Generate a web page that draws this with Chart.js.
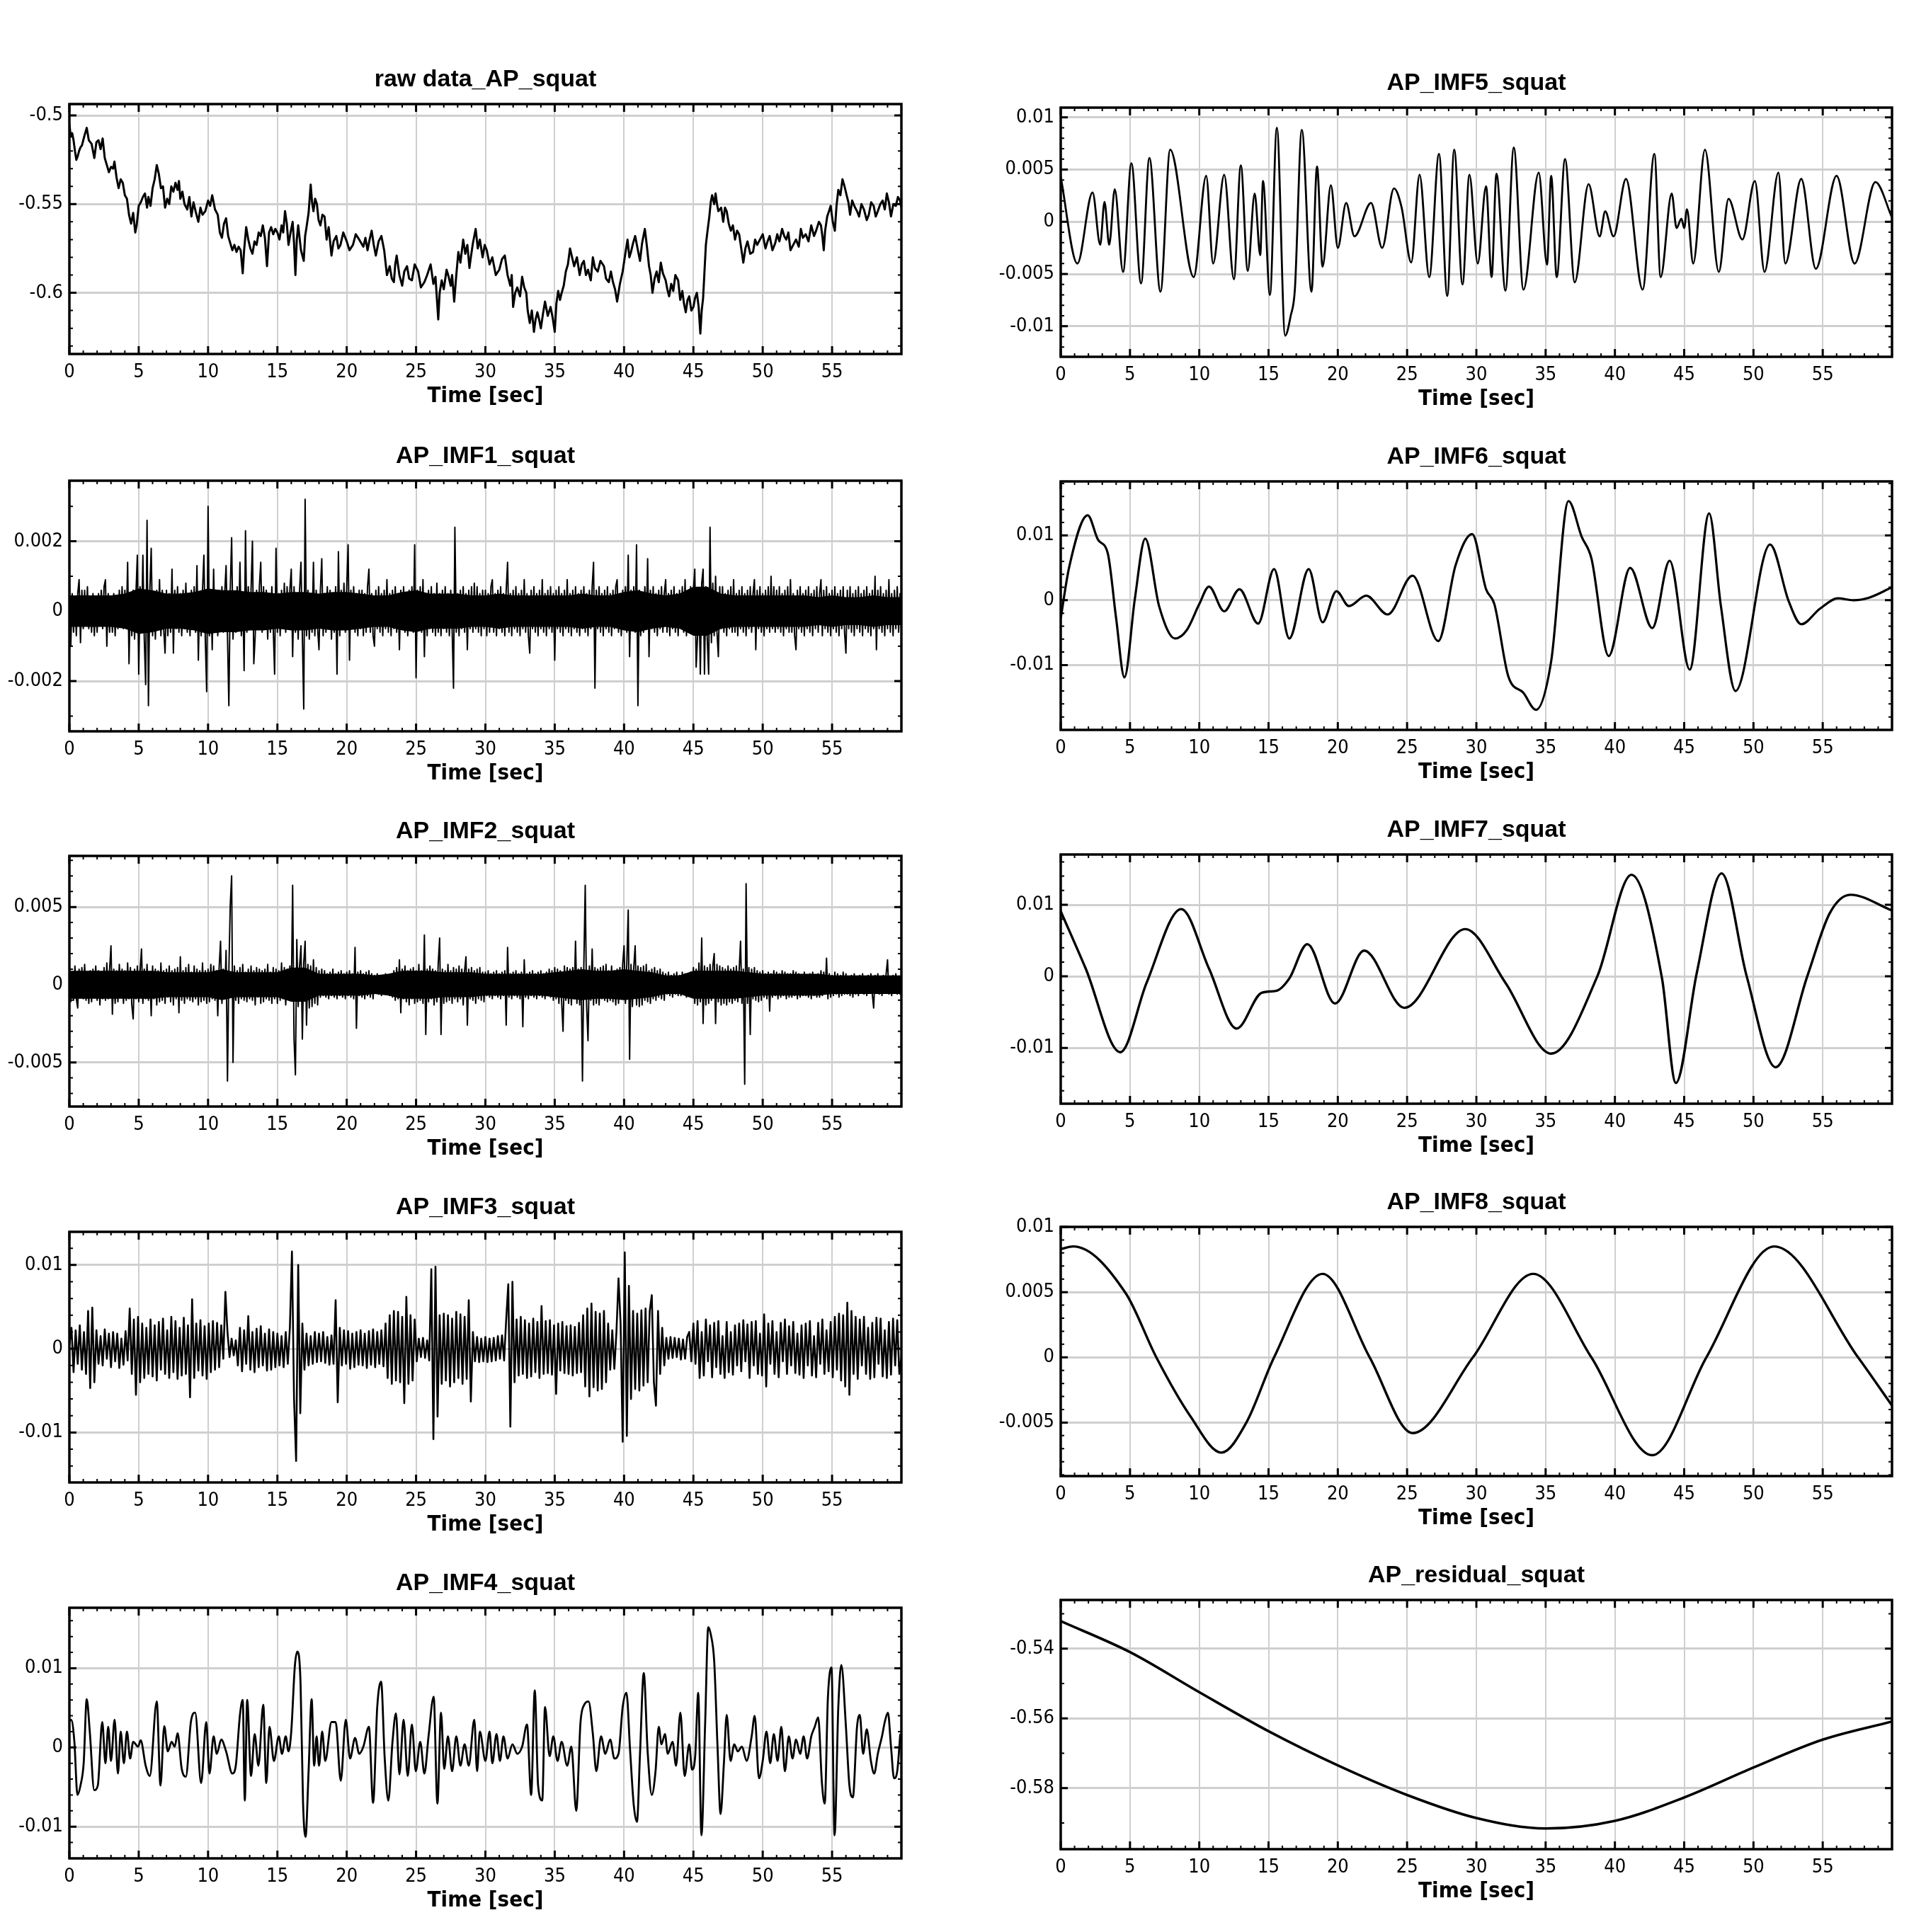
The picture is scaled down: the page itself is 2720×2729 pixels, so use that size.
<!DOCTYPE html>
<html>
<head>
<meta charset="utf-8">
<script src="https://cdn.jsdelivr.net/npm/chart.js@4.4.1/dist/chart.umd.min.js"></script>
<style>
  html, body { margin: 0; padding: 0; background: #fff; }
  body { width: 2720px; height: 2729px; position: relative; overflow: hidden; }
  canvas { position: absolute; }
</style>
</head>
<body>
<script>
// ─── Shared axis values ────────────────────────────────────────────────────
const TIME_TICKS = [0, 5, 10, 15, 20, 25, 30, 35, 40, 45, 50, 55];

// ─── raw data_AP_squat : [time s, value x1e-3] ─────────────────────────────
const rawPts = [
  [0,-505],[0.1,-512],[0.2,-510],[0.3,-514],[0.4,-520],[0.5,-525],[0.6,-523],[0.7,-520],[0.8,-518],[0.9,-517],
  [1.0,-514],[1.1,-511],[1.25,-507],[1.4,-514],[1.6,-516],[1.8,-524],[1.95,-515],[2.1,-514],[2.25,-519],[2.4,-513],
  [2.55,-524],[2.7,-528],[2.85,-532],[3.0,-529],[3.15,-530],[3.25,-526],[3.4,-535],[3.55,-541],[3.7,-536],[3.85,-538],
  [4.0,-545],[4.15,-547],[4.3,-556],[4.45,-561],[4.6,-555],[4.75,-566],[4.85,-562],[5.0,-551],[5.15,-549],[5.3,-546],
  [5.45,-544],[5.6,-552],[5.7,-546],[5.85,-551],[6.0,-541],[6.15,-536],[6.3,-528],[6.45,-533],[6.6,-541],[6.75,-540],
  [6.9,-552],[7.05,-547],[7.2,-550],[7.35,-540],[7.5,-543],[7.65,-538],[7.8,-542],[7.9,-537],[8.0,-547],[8.15,-543],
  [8.3,-550],[8.5,-553],[8.65,-546],[8.8,-557],[8.95,-549],[9.1,-554],[9.3,-560],[9.45,-552],[9.6,-556],[9.8,-554],
  [10.0,-548],[10.15,-551],[10.3,-545],[10.5,-553],[10.7,-556],[10.85,-566],[11.0,-569],[11.15,-561],[11.3,-558],[11.45,-568],
  [11.6,-572],[11.75,-576],[11.9,-573],[12.05,-577],[12.2,-574],[12.35,-576],[12.5,-589],[12.6,-576],[12.75,-563],[12.9,-570],
  [13.05,-575],[13.2,-578],[13.35,-571],[13.5,-573],[13.65,-566],[13.8,-568],[13.95,-562],[14.1,-569],[14.25,-585],[14.4,-566],
  [14.55,-563],[14.7,-567],[14.85,-564],[15.0,-566],[15.15,-570],[15.3,-562],[15.42,-566],[15.55,-554],[15.68,-561],[15.8,-573],
  [15.95,-566],[16.1,-560],[16.2,-572],[16.3,-590],[16.4,-570],[16.5,-562],[16.7,-576],[16.9,-582],[17.0,-568],[17.1,-563],
  [17.25,-555],[17.4,-539],[17.5,-549],[17.6,-554],[17.72,-547],[17.85,-550],[17.97,-559],[18.1,-562],[18.25,-556],[18.4,-557],
  [18.55,-570],[18.7,-563],[18.9,-579],[19.05,-571],[19.25,-568],[19.4,-575],[19.55,-573],[19.75,-566],[20.0,-571],[20.2,-576],
  [20.45,-573],[20.65,-567],[20.9,-570],[21.2,-574],[21.35,-569],[21.5,-576],[21.65,-570],[21.8,-565],[21.95,-573],[22.1,-579],
  [22.3,-571],[22.5,-568],[22.7,-576],[22.9,-590],[23.1,-585],[23.25,-592],[23.4,-594],[23.5,-584],[23.6,-579],[23.8,-590],
  [24.0,-596],[24.15,-588],[24.35,-585],[24.5,-592],[24.7,-593],[24.9,-584],[25.15,-588],[25.35,-597],[25.6,-594],[25.8,-590],
  [26.05,-584],[26.25,-595],[26.4,-591],[26.6,-615],[26.7,-600],[26.85,-593],[27.0,-598],[27.2,-587],[27.35,-591],[27.5,-596],
  [27.6,-590],[27.75,-605],[27.9,-590],[28.05,-577],[28.2,-583],[28.4,-570],[28.55,-578],[28.7,-573],[28.85,-586],[28.95,-580],
  [29.1,-572],[29.3,-564],[29.45,-575],[29.6,-570],[29.8,-580],[29.95,-573],[30.1,-576],[30.3,-584],[30.5,-580],[30.75,-590],
  [31.0,-587],[31.2,-581],[31.4,-579],[31.6,-590],[31.8,-596],[31.9,-590],[32.0,-608],[32.15,-600],[32.3,-597],[32.5,-602],
  [32.65,-591],[32.8,-597],[32.95,-600],[33.05,-610],[33.2,-617],[33.35,-610],[33.5,-622],[33.62,-615],[33.75,-611],[33.9,-616],
  [34.0,-620],[34.15,-612],[34.3,-605],[34.5,-613],[34.7,-608],[34.85,-614],[35.0,-622],[35.12,-606],[35.25,-599],[35.38,-604],
  [35.5,-600],[35.65,-596],[35.8,-588],[35.95,-584],[36.1,-575],[36.25,-580],[36.4,-585],[36.6,-580],[36.8,-590],[36.95,-584],
  [37.1,-582],[37.25,-590],[37.4,-587],[37.6,-593],[37.75,-580],[37.9,-586],[38.1,-588],[38.3,-582],[38.55,-585],[38.7,-592],
  [38.9,-594],[39.05,-588],[39.2,-594],[39.35,-598],[39.5,-605],[39.7,-595],[39.9,-588],[40.05,-580],[40.25,-570],[40.38,-580],
  [40.5,-577],[40.65,-572],[40.8,-568],[41.0,-576],[41.15,-582],[41.3,-572],[41.5,-564],[41.65,-574],[41.8,-585],[41.92,-590],
  [42.05,-600],[42.2,-592],[42.35,-588],[42.5,-594],[42.65,-583],[42.8,-589],[43.0,-593],[43.12,-598],[43.25,-602],[43.4,-595],
  [43.55,-599],[43.7,-590],[43.9,-593],[44.05,-604],[44.2,-599],[44.32,-606],[44.45,-611],[44.58,-604],[44.7,-602],[44.85,-610],
  [45.0,-608],[45.12,-603],[45.25,-600],[45.38,-608],[45.5,-623],[45.6,-610],[45.7,-603],[45.8,-588],[45.9,-573],[46.02,-565],
  [46.15,-557],[46.25,-549],[46.35,-545],[46.5,-550],[46.6,-544],[46.7,-550],[46.8,-554],[47.0,-552],[47.15,-560],[47.28,-552],
  [47.4,-554],[47.55,-561],[47.7,-565],[47.85,-562],[48.0,-570],[48.15,-565],[48.3,-567],[48.45,-575],[48.6,-583],[48.75,-575],
  [48.9,-571],[49.1,-578],[49.3,-577],[49.45,-570],[49.6,-573],[49.8,-570],[50.0,-567],[50.2,-575],[50.35,-571],[50.5,-568],
  [50.7,-576],[50.9,-572],[51.05,-567],[51.2,-571],[51.4,-564],[51.55,-568],[51.7,-570],[51.85,-566],[52.0,-576],[52.2,-573],
  [52.4,-570],[52.6,-574],[52.75,-564],[52.9,-569],[53.1,-567],[53.3,-571],[53.5,-562],[53.7,-568],[53.85,-565],[54.05,-560],
  [54.2,-562],[54.3,-568],[54.4,-576],[54.5,-565],[54.65,-557],[54.78,-554],[54.9,-551],[55.05,-560],[55.2,-565],[55.32,-551],
  [55.45,-542],[55.6,-545],[55.75,-536],[55.9,-540],[56.05,-545],[56.18,-549],[56.3,-556],[56.45,-548],[56.6,-551],[56.8,-554],
  [56.95,-557],[57.12,-550],[57.3,-553],[57.5,-559],[57.65,-556],[57.82,-549],[58.0,-551],[58.15,-557],[58.3,-554],[58.48,-550],
  [58.65,-548],[58.8,-553],[58.95,-544],[59.1,-549],[59.25,-557],[59.42,-550],[59.6,-551],[59.75,-546],[59.9,-548],[60,-552]
];
const rawTicks = [-0.6, -0.55, -0.5];

// ─── AP_IMF1_squat : one value every 0.1 s, x1e-4 ──────────────────────────
const IMF1_DT = 0.1;
const imf1Vals = [
  11,-10,5,-6,4,-7,5,9,-9,6, -5,6,-4,7,-5,4,-6,5,-7,4, -6,5,-4,6,-5,7,9,-10,5,-6, 4,-6,5,-7,4,-5,6,-4,7,-5,
  6,-5,14,-15,5,-7,6,-8,5,16, -18,7,-6,16,-8,-21,26,-27,6,18, -7,5,-8,6,-5,9,-7,6,-5,-12, 6,-7,5,-6,12,-12,6,-5,7,-6,
  5,-7,6,-5,8,-6,5,-7,6,-5, 7,-6,13,-14,5,-7,6,16,-8,-23, 30,-7,6,-11,12,-6,5,-7,6,-5, 7,-6,5,13,-7,-27,6,21,-8,5,
  -6,7,-5,14,-7,5,-17,23,-6,7, -5,6,20,-15,-7,6,-5,7,14,-6, 7,-5,6,-8,5,-6,7,-5,-18,18, -6,5,-7,6,-5,8,-6,7,-5,6,
  12,-13,7,-6,5,-8,6,14,-7,-28, 32,-7,6,-8,5,-6,14,-7,6,-5, -11,6,15,-7,5,-6,7,-5,6,-8, 5,-6,7,-18,17,-7,6,-5,8,-6,
  7,19,-14,6,-5,7,-6,5,-7,6, -5,6,-7,5,-6,7,12,-6,5,-7, -10,6,-5,7,-6,5,-7,6,-5,9, -6,5,-7,6,-5,7,-6,5,-11,6,
  -5,7,-6,5,-7,6,-5,7,-6,19, -19,6,-5,7,-6,9,-13,5,-7,6, -5,7,-6,5,-7,8,-6,5,-7,6, -5,7,-6,5,-7,6,-5,-22,24,-6,
  5,-7,6,-5,7,-6,5,-11,6,-5, 7,-6,8,-5,7,-6,5,-7,6,-5, 6,-7,5,-6,7,9,-6,5,-7,6, -5,7,-6,5,-7,6,14,-6,5,-7,
  6,-5,7,-6,5,-7,6,-5,9,-6, 5,-7,-12,6,-5,7,-6,5,-7,6, -5,9,-6,5,-7,6,-5,7,-6,5, -14,6,-5,7,-6,5,-7,6,-5,9,
  -6,5,-7,6,-5,7,-6,5,-7,6, -5,7,-6,5,-7,6,-5,7,14,-22, 6,-5,7,-6,5,-7,6,-5,7,-6, 5,-7,6,-5,7,9,-6,5,-7,6,
  -5,7,-6,16,-13,6,-5,7,-6,19, -27,6,-7,5,-6,7,-5,15,-13,6, -5,7,-6,5,-7,6,-5,7,-6,5, 9,-6,5,-7,6,-5,7,-6,5,-7,
  6,-5,7,-6,9,-7,5,-6,7,-5, 6,12,-16,-7,6,-18,8,12,-18,7, -8,-18,24,-9,8,-7,10,-6,-13,7, -5,7,-6,5,-7,6,-5,7,-6,9,
  -6,5,-7,6,-5,7,-6,5,-7,6, -5,7,-6,5,9,-11,6,-5,7,-6, 5,-7,6,-5,7,-6,10,-5,7,-6, 6,-5,7,-6,5,-7,6,-5,7,-6,
  9,-6,5,-7,-11,6,-5,7,-6,5, -7,6,-5,7,-6,5,-7,6,-5,7, -6,5,9,-7,6,-5,7,-6,5,-7, 6,-5,7,-6,5,-7,6,-5,7,-6,
  -12,6,-5,7,-6,5,-7,6,-5,7, -6,5,-7,6,-5,7,-6,5,-7,6, -5,10,-11,6,-5,7,-6,5,-7,6, -5,9,-6,5,-7,6,-5,7,-6,5,
  -5
];
// half-width of the solid black core of IMF1, one value per second, x1e-4
const imf1Core = [
  4.5,4.5,4.5,4.5,5,6.5,6,5,5,5.5, 6.5,6,6,5.5,5.5,5,5.5,5.5,5,5.5, 5.5,5,4.5,4.5,5.5,6,5,5,5,4.5,
  4.5,5,4.5,4.5,4.5,4.5,4.5,5,4.5,4.5, 5.5,6,5,4.5,5,7,7,5,4.5,4.5, 4.5,4.5,4.5,4.5,4,4.5,4,4,4.5,4, 4
];
const imf1Ticks = [-0.002, 0, 0.002];

// ─── AP_IMF2_squat : one value every 0.1 s, x1e-4 ──────────────────────────
const IMF2_DT = 0.1;
const imf2Vals = [
  9,-11,8,-10,12,-9,-15,10,-8,11, -9,13,-10,8,-12,9,-11,10,-8,12, -10,9,-13,8,-9,11,-10,14,-9,10, 25,-19,10,-12,9,-11,13,-8,10,-12,
  9,-10,14,-9,11,-13,-22,10,-9,12, -11,9,23,-12,10,-9,13,-10,8,-20, 12,-9,10,-13,9,-11,14,-10,9,-12, 10,-8,12,-11,9,-13,10,-9,11,-18,
  18,-10,9,-12,11,-9,13,-10,8,-11, 12,-9,10,-13,9,-11,14,-10,9,-12, 10,-11,13,-9,12,-10,9,-20,11,28, -12,10,-9,22,-62,9,51,70,-50,12,
  -10,9,-12,11,-9,13,-10,8,-11,10, -9,12,-10,9,-13,11,-8,10,-12,9, -11,10,-9,13,-10,8,-12,11,-9,10, -12,9,-10,14,-9,11,-13,10,-8,12,
  -10,64,-35,-58,29,-14,12,25,-35,14, 28,-26,13,-15,12,-14,16,-12,11,-13, 9,-8,10,-7,9,-8,7,-9,8,-7, 10,-8,7,-9,8,-7,9,-8,7,-9,
  8,-7,9,-8,7,-9,24,-28,8,-7, 9,-8,7,-9,8,-7,9,-8,7,-9, 6,-5,7,-6,5,-7,6,-5,7,-6, 5,-7,6,-8,9,-10,11,-9,16,-18,
  10,-9,12,-11,9,-13,10,-9,11,-12, 9,-11,13,-10,9,-12,32,-32,10,-11, 12,-9,10,-13,9,-11,14,30,-32,10, -12,9,-11,13,-10,9,-12,11,-9,10,
  -11,12,-9,10,-13,9,18,-26,10,-9, 11,-10,9,-12,10,-9,11,-10,8,-11, 8,-7,9,-8,7,-9,8,-7,9,-8, 7,-9,8,-7,9,-26,24,-8,7,-9,
  8,-7,9,-8,7,-9,8,-27,16,-8, 7,-9,8,-7,9,-8,7,-9,8,-7, 9,-8,7,-9,8,-7,10,-8,9,-10, 11,-9,10,-12,9,-11,-30,12,-10,11,
  -12,10,-13,11,-9,28,-12,10,-13,11, -62,13,64,-14,-36,12,-10,23,-13,11, -12,10,-13,11,-9,12,-10,13,-11,9, -10,12,-11,9,-13,10,-12,11,-9,13,
  25,-12,14,48,-48,13,-14,11,25,-13, 12,-14,11,-13,12,-10,13,-11,9,-12, 10,-9,11,-10,9,-8,10,-9,8,-10, 7,-6,8,-7,6,-8,7,-6,8,-7,
  6,-7,8,-6,7,-8,6,-7,8,-6, 11,-12,10,-13,14,-11,30,-25,12,-13, 11,-12,13,-10,12,20,-25,13,-11,12, -13,11,-12,10,-13,12,-11,10,-12,11,
  -10,12,-11,9,28,-12,10,-64,65,-12, 11,-32,10,-9,11,-10,9,-11,8,-10, 9,-8,7,-9,8,-17,7,-8,9,-7, 8,-9,7,-8,9,-7,8,-9,7,-8,
  7,-8,9,-7,8,-9,7,-8,6,-7, 8,-7,6,-8,7,-9,8,-7,6,-8, 7,-8,9,-7,8,-6,17,-9,7,-8, 6,-7,8,-6,7,-8,6,-7,8,-6,
  7,-6,5,-7,6,-8,7,-6,5,-7, 6,-5,7,-6,5,-7,6,-5,7,-6, -15,6,-5,7,-6,5,-7,6,-5,7, 16,-6,5,-7,6,-5,7,-6,5,-6,
  4
];
// half-width of the solid black core of IMF2, one value per second, x1e-4
const imf2Core = [
  9,9,9,9,9,9,9,8,8,8, 8,10,8,8,8,8,11,11,7,7, 7,7,6,7,9,9,9,8,8,8,
  7,7,7,7,7,8,9,10,9,9, 10,9,8,6,6,9,9,9,9,8, 7,7,7,7,7,6,6,6,6,6, 6
];
const imf2Ticks = [-0.005, 0, 0.005];

// ─── AP_IMF3_squat : one value every 0.15 s, x1e-4 ─────────────────────────
const IMF3_DT = 0.15;
const imf3Vals = [
  5,25,-28,22,-18,28,-25,20,-30,45,-47,49,-40,22,-18,15,-20,23,-12,18,
  -22,20,-15,18,-23,12,-19,21,-14,48,-30,35,-55,38,-40,30,-35,25,-30,35,
  -33,28,-38,32,-25,36,-30,22,-35,38,-28,33,-36,25,-32,37,-30,28,-58,59,
  -35,30,-26,34,-32,27,-36,30,-28,33,-25,31,-22,28,-12,68,20,-10,12,-8,
  10,-20,25,-27,22,-18,39,-25,20,-28,24,-22,27,-20,18,-26,23,-25,20,-22,
  18,-20,15,-22,20,-18,25,116,-60,-134,100,-77,30,-25,18,-20,15,-18,20,-16,
  18,-15,20,-17,14,-19,16,-18,58,-64,25,-20,22,-18,21,-24,18,-22,20,-19,
  22,-20,18,-23,21,-19,23,-22,20,-18,22,-21,30,-35,40,-42,45,-38,44,-40,
  38,-65,62,-42,40,-38,35,-15,12,-10,13,-11,10,-14,95,-108,98,-81,40,-42,
  42,-38,40,-45,36,-40,44,-35,41,-42,38,-36,58,-63,20,-15,14,-16,12,-15,
  14,-16,12,-15,13,-14,15,-12,16,-14,35,77,-93,80,-40,35,-32,38,-30,34,
  -35,30,-33,36,-28,32,-35,51,-30,33,-29,34,-31,28,-54,30,-26,32,-29,27,
  -30,28,-32,26,-29,31,-28,40,-45,48,-57,54,-46,44,-50,42,-48,45,-40,30,
  -25,22,-24,20,84,30,-111,115,-104,75,-60,45,-48,42,-50,46,-44,48,-40,45,
  64,-40,-68,45,-30,25,-20,13,-12,14,-11,13,-10,12,-13,11,-12,14,20,-15,
  30,-18,33,-35,20,-32,35,-15,28,-34,31,-22,33,-30,15,-35,32,-28,20,-31,
  28,-20,30,-27,34,-15,29,-35,32,-20,33,-30,18,-32,41,-45,30,-18,33,-30,
  20,-34,31,-15,35,-30,27,-20,32,-29,18,-31,28,-35,30,-20,33,-32,15,-34,
  31,-18,35,-30,22,-27,32,-34,38,-25,42,-38,40,-45,55,-55,45,-30,38,-36,
  35,-20,38,-30,25,-36,31,-34,37,-18,36,-33,22,-35,32,-31,36,-20,34,-30,
  -10
];
const imf3Ticks = [-0.01, 0, 0.01];

// ─── AP_IMF4_squat : [time s, value x1e-4] ─────────────────────────────────
const imf4Pts = [
  [0,32],[0.13,35],[0.36,7],[0.58,-60],[0.8,-48],[1.03,-20],[1.25,61],[1.47,20],[1.79,-54],[2.05,-48],
  [2.37,32],[2.6,-20],[2.8,26],[3.0,-17],[3.26,35],[3.5,-33],[3.7,20],[3.93,-20],[4.15,20],[4.38,-14],
  [4.6,7],[4.96,1],[5.14,9],[5.5,-23],[5.8,-36],[6.3,58],[6.57,-48],[6.84,27],[7.1,-5],[7.37,7],
  [7.6,1],[7.8,18],[8.1,-27],[8.4,-37],[8.76,32],[9.07,44],[9.5,-45],[9.87,32],[10.1,-33],[10.4,14],
  [10.63,-8],[10.95,10],[11.3,-5],[11.75,-33],[12.0,-23],[12.3,41],[12.5,60],[12.65,-67],[12.82,60],[13.1,-36],
  [13.36,17],[13.63,-23],[13.98,54],[14.2,-45],[14.43,26],[14.75,-17],[15.1,14],[15.33,-8],[15.6,14],[15.8,-5],
  [16.0,20],[16.26,103],[16.44,121],[16.67,81],[16.85,-70],[17.03,-113],[17.25,-30],[17.47,61],[17.65,-23],[17.83,14],
  [18.0,-23],[18.23,20],[18.45,-17],[18.9,32],[19.2,32],[19.57,-42],[19.93,35],[20.24,-14],[20.6,12],[20.9,-8],
  [21.2,1],[21.6,26],[21.9,-70],[22.2,51],[22.48,83],[22.74,-14],[23.0,-67],[23.3,7],[23.55,43],[23.8,-34],
  [24.1,35],[24.4,-36],[24.7,29],[24.98,-30],[25.3,7],[25.6,-33],[25.9,14],[26.27,64],[26.54,-71],[26.8,44],
  [27.03,-27],[27.3,14],[27.6,-30],[27.9,14],[28.2,-23],[28.5,4],[28.8,-23],[29.2,35],[29.4,-30],[29.6,20],
  [30.0,-17],[30.3,20],[30.5,-20],[30.8,17],[31.05,-17],[31.3,14],[31.6,-14],[31.95,4],[32.3,-8],[32.65,1],
  [33.0,29],[33.3,-60],[33.56,72],[33.8,-48],[34.1,-67],[34.3,51],[34.63,-11],[34.9,14],[35.2,-17],[35.5,7],
  [35.9,-23],[36.2,1],[36.55,-80],[36.86,32],[37.13,54],[37.44,58],[37.75,17],[38.0,-30],[38.34,14],[38.65,-8],
  [39.0,10],[39.3,-14],[39.6,-8],[39.9,51],[40.17,69],[40.44,-5],[40.7,-73],[40.93,-94],[41.15,-8],[41.42,94],
  [41.7,-5],[42.0,-60],[42.27,-30],[42.5,26],[42.7,4],[42.95,17],[43.15,-8],[43.5,7],[43.75,-23],[44.06,44],
  [44.37,-36],[44.7,4],[44.9,-28],[45.13,-11],[45.35,69],[45.58,-111],[45.85,32],[46.07,152],[46.25,143],[46.5,109],
  [46.74,1],[46.96,-84],[47.2,-20],[47.4,41],[47.68,-17],[47.95,4],[48.2,-5],[48.5,1],[48.84,-17],[49.2,14],
  [49.42,40],[49.73,-39],[50.0,-17],[50.27,20],[50.54,-20],[50.8,17],[51.07,-17],[51.34,26],[51.6,-30],[51.88,14],
  [52.15,-14],[52.4,10],[52.7,-8],[52.95,14],[53.2,-14],[53.5,14],[53.75,26],[54.0,38],[54.27,-45],[54.47,-71],
  [54.7,63],[54.96,101],[55.18,-111],[55.45,51],[55.67,104],[56.0,26],[56.25,-48],[56.5,-63],[56.8,26],[57.0,41],
  [57.24,-8],[57.5,23],[57.8,-17],[58.04,-33],[58.3,-8],[58.6,14],[58.8,32],[59.03,44],[59.25,1],[59.47,-39],
  [59.7,-30],[59.92,17]
];
const imf4Ticks = [-0.01, 0, 0.01];

// ─── AP_IMF5_squat : [time s, value x1e-4] ─────────────────────────────────
const imf5Pts = [
  [0,43],[1.2,-40],[2.3,28],[2.85,-22],[3.16,19],[3.5,-22],[3.9,31],[4.5,-48],[5.1,56],[5.8,-59],
  [6.4,61],[7.2,-67],[7.9,69],[9.6,-53],[10.5,44],[11.0,-40],[11.8,45],[12.5,-55],[13.0,54],[13.5,-47],
  [14.0,27],[14.4,-32],[14.6,39],[15.1,-70],[15.6,90],[16.2,-109],[16.6,-90],[16.9,-65],[17.4,88],[18.1,-67],
  [18.5,53],[18.9,-43],[19.5,35],[20.0,-25],[20.6,18],[21.2,-14],[22.4,18],[23.2,-25],[24.05,32],[24.6,14],
  [25.3,-39],[25.9,45],[26.6,-53],[27.3,65],[27.9,-71],[28.4,69],[29.0,-60],[29.5,45],[30.1,-40],[30.7,34],
  [31.1,-53],[31.45,46],[32.1,-66],[32.7,71],[33.4,-65],[34.5,47],[35.1,-41],[35.4,44],[35.8,-53],[36.4,60],
  [37.1,-58],[38.1,36],[38.9,-14],[39.3,10],[39.9,-14],[40.8,41],[42.0,-65],[42.85,65],[43.3,-53],[44.1,27],
  [44.45,-6],[44.8,3],[45.0,-6],[45.2,12],[45.65,-40],[46.5,69],[47.5,-48],[48.2,22],[49.2,-17],[50.1,39],
  [50.8,-48],[51.8,47],[52.3,-40],[53.45,41],[54.5,-45],[56.0,44],[57.3,-40],[58.8,38],[60,4]
];
const imf5Ticks = [-0.01, -0.005, 0, 0.005, 0.01];

// ─── AP_IMF6_squat : [time s, value x1e-4] ─────────────────────────────────
const imf6Pts = [
  [0,-28],[0.6,50],[1.95,131],[2.7,93],[3.4,72],[4.0,-28],[4.6,-119],[5.35,2],[6.1,95],[7.1,-9],
  [8.25,-59],[9.1,-46],[10.0,-6],[10.7,21],[11.8,-17],[12.9,17],[14.25,-36],[15.4,48],[16.5,-59],[17.9,48],
  [18.9,-34],[19.9,14],[20.8,-9],[22.05,7],[23.6,-22],[25.4,38],[27.25,-63],[28.5,54],[29.7,102],[30.7,17],
  [31.3,-6],[32.3,-117],[33.4,-143],[34.3,-169],[35.4,-94],[36.65,153],[37.6,98],[38.3,65],[39.55,-86],[41.1,50],
  [42.7,-43],[43.95,61],[45.4,-107],[46.8,134],[47.65,-9],[48.7,-140],[51.2,86],[52.55,-2],[53.45,-37],[54.8,-13],
  [56.1,3],[57.2,0],[58.35,4],[60,20]
];
const imf6Ticks = [-0.01, 0, 0.01];

// ─── AP_IMF7_squat : [time s, value x1e-4] ─────────────────────────────────
const imf7Pts = [
  [0,91],[1.8,11],[4.3,-106],[6.2,-9],[8.7,94],[10.7,11],[12.7,-73],[14.5,-23],[15.6,-20],[16.5,-3],
  [17.8,45],[19.8,-38],[21.9,36],[24.8,-44],[29.2,66],[32.1,-9],[35.4,-108],[38.75,1],[41.2,142],[43.4,-3],
  [44.4,-149],[45.9,4],[47.7,144],[49.5,1],[51.6,-127],[53.9,1],[55.5,88],[57.0,114],[60,92]
];
const imf7Ticks = [-0.01, 0, 0.01];

// ─── AP_IMF8_squat : [time s, value x1e-4] ─────────────────────────────────
const imf8Pts = [
  [0,83],[0.9,85],[4.7,49],[6.9,0],[9.35,-45],[11.6,-73],[13.4,-50],[15.4,0],[18.9,64],[22.3,0],
  [25.4,-58],[29.75,0],[34.1,64],[38.3,0],[42.7,-75],[46.6,0],[51.5,85],[57.55,0],[60,-37]
];
const imf8Ticks = [-0.005, 0, 0.005, 0.01];

// ─── AP_residual_squat : [time s, value x1e-3] ─────────────────────────────
const residualPts = [
  [0,-532.1],[5,-541],[10,-552.5],[15,-563.7],[20,-573.5],[25,-582],[30,-588.6],
  [35,-591.6],[40,-589.4],[45,-582.7],[50,-574.1],[55,-566.1],[60,-560.9]
];
const residualTicks = [-0.58, -0.56, -0.54];

// ─── Helpers ───────────────────────────────────────────────────────────────
const fromPairs = (pts, k) => pts.map(p => ({ x: p[0], y: p[1] * k }));
const fromSamples = (vals, dt, k) => vals.map((v, i) => ({ x: +(i * dt).toFixed(3), y: v * k }));
const fmt = v => String(+v.toFixed(6));

const NARROW = "'Liberation Sans Narrow','Arial Narrow','DejaVu Sans Condensed',sans-serif";
const WIDE = "'Liberation Sans',Arial,sans-serif";
const GRID = '#cfcfcf';

// black filled core band (upper edge fills down to the lower edge)
function coreBand(half) {
  return [
    { data: fromSamples(half, 1, 1e-4), borderWidth: 0, pointRadius: 0, backgroundColor: '#000', fill: '+1', tension: 0 },
    { data: fromSamples(half, 1, -1e-4), borderWidth: 0, pointRadius: 0, fill: false, tension: 0 },
  ];
}

// ─── Frame + inward ticks plugin ───────────────────────────────────────────
const framePlugin = {
  id: 'frame',
  afterDatasetsDraw(chart, args, opts) {
    const { ctx, chartArea: a, scales: { x, y } } = chart;
    ctx.save();
    ctx.strokeStyle = '#000';
    ctx.lineCap = 'butt';
    // minor ticks
    ctx.lineWidth = 2;
    ctx.beginPath();
    for (let t = 1; t < 60; t++) {
      if (t % 5 === 0) continue;
      const px = x.getPixelForValue(t);
      ctx.moveTo(px, a.top); ctx.lineTo(px, a.top + 5);
      ctx.moveTo(px, a.bottom); ctx.lineTo(px, a.bottom - 5);
    }
    const step = opts.minor;
    const k0 = Math.ceil(y.min / step - 1e-6), k1 = Math.floor(y.max / step + 1e-6);
    for (let k = k0; k <= k1; k++) {
      const v = k * step;
      if (opts.ticks.some(t => Math.abs(t - v) < step / 10)) continue;
      const py = y.getPixelForValue(v);
      ctx.moveTo(a.left, py); ctx.lineTo(a.left + 5, py);
      ctx.moveTo(a.right, py); ctx.lineTo(a.right - 5, py);
    }
    ctx.stroke();
    // major ticks
    ctx.lineWidth = 3;
    ctx.beginPath();
    TIME_TICKS.forEach(t => {
      const px = x.getPixelForValue(t);
      ctx.moveTo(px, a.top); ctx.lineTo(px, a.top + 11);
      ctx.moveTo(px, a.bottom); ctx.lineTo(px, a.bottom - 11);
    });
    opts.ticks.forEach(v => {
      const py = y.getPixelForValue(v);
      ctx.moveTo(a.left, py); ctx.lineTo(a.left + 10, py);
      ctx.moveTo(a.right, py); ctx.lineTo(a.right - 10, py);
    });
    ctx.stroke();
    // box
    ctx.lineWidth = 3.5;
    ctx.strokeRect(a.left, a.top, a.right - a.left, a.bottom - a.top);
    ctx.restore();
  }
};

// ─── Panels ────────────────────────────────────────────────────────────────
const panels = [
  { title: 'raw data_AP_squat', col: 0, top: 147, bottom: 500, data: fromPairs(rawPts, 1e-3), min: -0.6345, max: -0.4936, ticks: rawTicks, minor: 0.01, lw: 3 },
  { title: 'AP_IMF1_squat', col: 0, top: 679, bottom: 1033, data: fromSamples(imf1Vals, IMF1_DT, 1e-4), core: imf1Core, min: -0.003436, max: 0.003732, ticks: imf1Ticks, minor: 0.001, lw: 2 },
  { title: 'AP_IMF2_squat', col: 0, top: 1209, bottom: 1563, data: fromSamples(imf2Vals, IMF2_DT, 1e-4), core: imf2Core, min: -0.00784, max: 0.008287, ticks: imf2Ticks, minor: 0.001, lw: 2 },
  { title: 'AP_IMF3_squat', col: 0, top: 1740, bottom: 2094, data: fromSamples(imf3Vals, IMF3_DT, 1e-4), min: -0.01597, max: 0.01396, ticks: imf3Ticks, minor: 0.002, lw: 2.6 },
  { title: 'AP_IMF4_squat', col: 0, top: 2271, bottom: 2625, data: fromPairs(imf4Pts, 1e-4), min: -0.01401, max: 0.01764, ticks: imf4Ticks, minor: 0.002, lw: 2.8, smooth: true },
  { title: 'AP_IMF5_squat', col: 1, top: 152, bottom: 504, data: fromPairs(imf5Pts, 1e-4), min: -0.01293, max: 0.01093, ticks: imf5Ticks, minor: 0.001, lw: 2.8, smooth: true },
  { title: 'AP_IMF6_squat', col: 1, top: 680, bottom: 1031, data: fromPairs(imf6Pts, 1e-4), min: -0.02, max: 0.01833, ticks: imf6Ticks, minor: 0.002, lw: 3.2, smooth: true },
  { title: 'AP_IMF7_squat', col: 1, top: 1207, bottom: 1559, data: fromPairs(imf7Pts, 1e-4), min: -0.0178, max: 0.01703, ticks: imf7Ticks, minor: 0.002, lw: 3.4, smooth: true },
  { title: 'AP_IMF8_squat', col: 1, top: 1733, bottom: 2085, data: fromPairs(imf8Pts, 1e-4), min: -0.0091, max: 0.01, ticks: imf8Ticks, minor: 0.001, lw: 3.4, smooth: true },
  { title: 'AP_residual_squat', col: 1, top: 2260, bottom: 2612, data: fromPairs(residualPts, 1e-3), min: -0.59754, max: -0.52603, ticks: residualTicks, minor: 0.01, lw: 3.6, smooth: true },
];

const COL_LEFT = [0, 1400];
const CANVAS_W = 1290;
const Y_AXIS_W = 98;
const PAD_RIGHT = [17, 18];
const TITLE_BLOCK = 55;
const X_AXIS_H = 79;

Chart.defaults.color = '#000';

panels.forEach(p => {
  const cv = document.createElement('canvas');
  const h = TITLE_BLOCK + (p.bottom - p.top) + X_AXIS_H;
  cv.width = CANVAS_W; cv.height = h;
  cv.style.left = COL_LEFT[p.col] + 'px';
  cv.style.top = (p.top - TITLE_BLOCK) + 'px';
  cv.style.width = CANVAS_W + 'px';
  cv.style.height = h + 'px';
  document.body.appendChild(cv);

  const datasets = p.core ? coreBand(p.core) : [];
  datasets.push({
    data: p.data,
    borderColor: '#000', borderWidth: p.lw,
    borderJoinStyle: 'round',
    pointRadius: 0, fill: false,
    cubicInterpolationMode: p.smooth ? 'monotone' : 'default',
    tension: 0,
  });

  new Chart(cv.getContext('2d'), {
    type: 'line',
    data: { datasets },
    options: {
      responsive: false, animation: false, devicePixelRatio: 1,
      layout: { padding: { left: 0, right: PAD_RIGHT[p.col], top: 0, bottom: 0 } },
      plugins: {
        legend: { display: false }, tooltip: { enabled: false },
        filler: { propagate: false },
        title: {
          display: true, text: p.title, fullSize: false, color: '#000',
          font: { family: WIDE, size: 34, weight: 'bold', lineHeight: 1.2 },
          padding: { top: 0, bottom: TITLE_BLOCK - 40.8 },
        },
        frame: { minor: p.minor, ticks: p.ticks },
      },
      scales: {
        x: {
          type: 'linear', min: 0, max: 60,
          afterBuildTicks: s => { s.ticks = TIME_TICKS.map(v => ({ value: v })); },
          afterFit: s => { s.height = X_AXIS_H; },
          ticks: { font: { family: NARROW, size: 27 }, color: '#000', padding: 10, maxRotation: 0, autoSkip: false, callback: v => fmt(v) },
          grid: { color: GRID, lineWidth: 2, drawTicks: false },
          border: { display: false },
          title: { display: true, text: 'Time [sec]', color: '#000', font: { family: NARROW, size: 31, weight: 'bold', lineHeight: 1.2 }, padding: 0 },
        },
        y: {
          type: 'linear', min: p.min, max: p.max,
          afterBuildTicks: s => { s.ticks = p.ticks.map(v => ({ value: v })); },
          afterFit: s => { s.width = Y_AXIS_W; },
          ticks: { font: { family: NARROW, size: 27 }, color: '#000', padding: 9, callback: v => fmt(v) },
          grid: { color: GRID, lineWidth: 3, drawTicks: false },
          border: { display: false },
        }
      }
    },
    plugins: [framePlugin]
  });
});
</script>
</body>
</html>
